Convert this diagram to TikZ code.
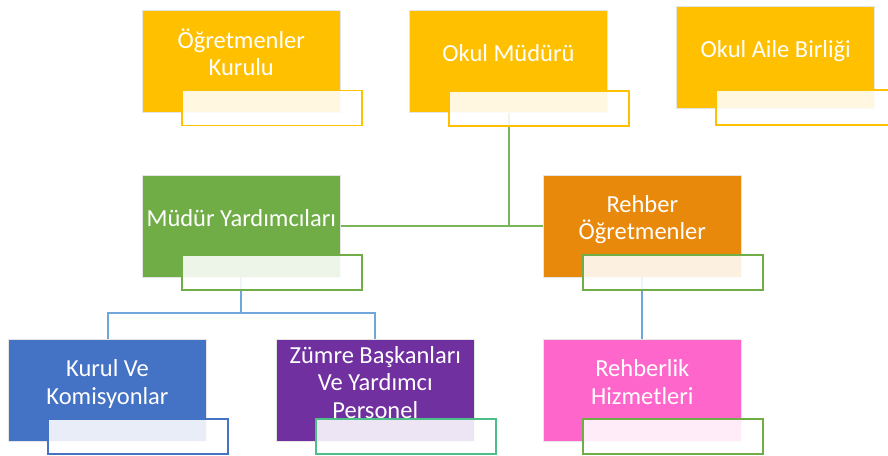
\documentclass[tikz,border=0pt]{standalone}
\usepackage{fontspec}
\setmainfont{Carlito}
\definecolor{cyel}{HTML}{FFC000}
\definecolor{cgrn}{HTML}{70AD47}
\definecolor{corg}{HTML}{E8890C}
\definecolor{cblu}{HTML}{4472C4}
\definecolor{cpur}{HTML}{7030A0}
\definecolor{cpnk}{HTML}{FF66CC}
\definecolor{cteal}{HTML}{4CBF88}
\definecolor{clinegrn}{HTML}{7AB55C}
\definecolor{clineblu}{HTML}{6FA6DC}
\newcommand\topstrut{\rule{0pt}{19.25pt}}
\newcommand\botstrut{\rule[-19.25pt]{0pt}{19.25pt}}
\tikzset{
  mainbox/.style={minimum width=198pt, minimum height=102pt, inner sep=0pt,
    align=center, text=white, font=\fontsize{24.5}{27.5}\selectfont,
    draw=black!10, line width=0.75pt},
  subbox/.style={minimum width=180pt, minimum height=35pt, inner sep=0pt,
    fill=white, fill opacity=0.88, line width=1.9pt},
  gline/.style={draw=clinegrn, line width=2pt},
  bline/.style={draw=clineblu, line width=2pt}
}
\begin{document}
\begin{tikzpicture}[x=1pt,y=-1pt]
\fill[white] (0,0) rectangle (888,455);
\useasboundingbox (0,0) rectangle (888,455);
% main boxes
\node[mainbox, fill=cyel] (ogk) at (241.3,61.7) {\topstrut Öğretmenler\\Kurulu\botstrut};
\node[mainbox, fill=cyel] (okm) at (508.5,61.8) {\topstrut Okul Müdürü\botstrut};
\node[mainbox, fill=cyel] (oab) at (775.8,57.8) {\topstrut Okul Aile Birliği\botstrut};
\node[mainbox, fill=cgrn] (myrd) at (241.3,226) {\topstrut Müdür Yardımcıları\botstrut};
\node[mainbox, fill=corg] (rog) at (642.3,226) {\topstrut Rehber\\Öğretmenler\botstrut};
\node[mainbox, fill=cblu] (kvk) at (107.5,390.5) {\topstrut Kurul Ve\\Komisyonlar\botstrut};
\node[mainbox, fill=cpur] (zby) at (375.3,390.5) {\topstrut Zümre Başkanları\\Ve Yardımcı\\Personel\botstrut};
\node[mainbox, fill=cpnk] (rhz) at (642.3,390.5) {\topstrut Rehberlik\\Hizmetleri\botstrut};
% connectors
\coordinate (bj) at (241.3,313);
\draw[gline] (okm.south) -- (okm.south |- myrd.east);
\draw[gline] (myrd.east) -- (rog.west);
\draw[bline] (myrd.south) -- (myrd.south |- bj);
\draw[bline] (kvk.north) -- (kvk.north |- bj) -- (zby.north |- bj) -- (zby.north);
\draw[bline] (rog.south) -- (rhz.north);
% sub boxes
\node[subbox, draw=cyel] (ogks) at ([shift={(30.25,46.25)}]ogk.center) {};
\node[subbox, draw=cyel] (okms) at ([shift={(30.25,46.25)}]okm.center) {};
\node[subbox, draw=cyel] (oabs) at ([shift={(30,50.1)}]oab.center) {};
\node[subbox, draw=cgrn] (myrds) at ([shift={(30.25,46.25)}]myrd.center) {};
\node[subbox, draw=cgrn] (rogs) at ([shift={(30.25,46.25)}]rog.center) {};
\node[subbox, draw=cblu] (kvks) at ([shift={(30.25,46.25)}]kvk.center) {};
\node[subbox, draw=cteal] (zbys) at ([shift={(30.25,46.25)}]zby.center) {};
\node[subbox, draw=cgrn] (rhzs) at ([shift={(30.25,46.25)}]rhz.center) {};
\end{tikzpicture}
\end{document}
